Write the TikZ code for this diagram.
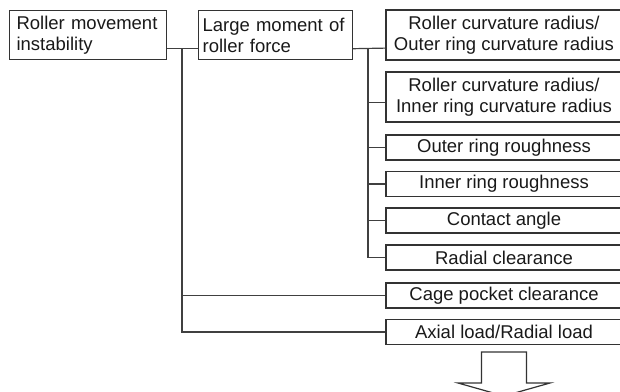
\documentclass[tikz,border=0pt]{standalone}
\usepackage{fontspec}
\setmainfont{Liberation Sans}
\usepackage{tikz}
\tikzset{
    every node/.style={font=\fontsize{18.5}{21}\selectfont, text=black!90}
}

\begin{document}
\begin{tikzpicture}[x=1pt,y=-1pt]
    % Define styles for boxes and links
    \tikzstyle{topbox} = [rectangle, draw=black!80, line width=1.2pt,
        anchor=north west, align=left, minimum height=49pt, inner sep=0pt]
    \tikzstyle{factor} = [rectangle, draw=black!80, line width=1.2pt,
        minimum width=236pt, minimum height=25pt, inner sep=0pt, align=center]
    \tikzstyle{link} = [draw=black!75, line width=1.2pt]

    \useasboundingbox (0,0) rectangle (620,391);

    % Draw effect and main cause
    \node[topbox, text width=143pt, inner xsep=7pt] (movement) at (9,10)
        {Roller movement\\instability};
    \node[topbox, text width=146pt, inner xsep=4pt] (moment) at (198,10)
        {Large moment of\\roller force};

    % Draw factor boxes
    \node[factor, minimum height=50pt] (outercurv) at (504,35)
        {Roller curvature radius/\\Outer ring curvature radius};
    \node[factor, minimum height=50pt] (innercurv) at (504,97)
        {Roller curvature radius/\\Inner ring curvature radius};
    \node[factor] (outerrough) at (504,147.5) {Outer ring roughness};
    \node[factor] (innerrough) at (504,184) {Inner ring roughness};
    \node[factor] (angle) at (504,220.5) {Contact angle};
    \node[factor] (clearance) at (504,257.5) {Radial clearance};
    \node[factor] (cage) at (504,295.5) {Cage pocket clearance};
    \node[factor] (axial) at (504,332) {Axial load/Radial load};

    % Branch points
    \coordinate (trunkA) at (182,47.5);
    \coordinate (trunkB) at (368,47.5);

    % Draw links
    \draw[link] ([yshift=11.5pt]movement.south east) -- ([yshift=11.5pt]moment.south west);
    \draw[link] ([yshift=11.5pt]moment.south east) -- ([yshift=12.5pt]outercurv.south west);
    \draw[link] ([yshift=20pt]innercurv.south west) -- ([yshift=20pt]innercurv.south west -| trunkB);
    \draw[link] (outerrough.west) -- (outerrough.west -| trunkB);
    \draw[link] (innerrough.west) -- (innerrough.west -| trunkB);
    \draw[link] (angle.west) -- (angle.west -| trunkB);
    \draw[link] (clearance.west) -| (trunkB);
    \draw[link] (cage.west) -- (cage.west -| trunkA);
    \draw[link] (axial.west) -| (trunkA);

    % Draw result arrow
    \draw[black!80, line width=1.2pt] (481.5,352) -- (526.5,352) -- (526.5,383)
        -- (550,383) -- (504,396) -- (458,383) -- (481.5,383) -- cycle;
\end{tikzpicture}
\end{document}
